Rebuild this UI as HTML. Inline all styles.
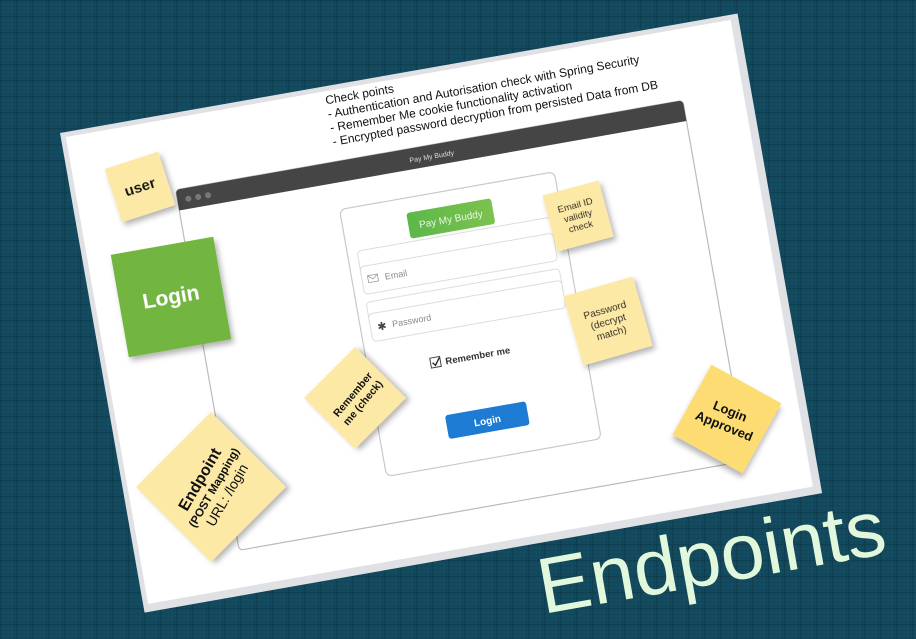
<!DOCTYPE html>
<html><head><meta charset="utf-8"><style>
html,body{margin:0;padding:0;width:916px;height:639px;overflow:hidden;background:#12475a;}
svg{display:block;font-family:"Liberation Sans",Arial,sans-serif;}
</style></head><body>
<svg width="916" height="639" viewBox="0 0 916 639" xmlns="http://www.w3.org/2000/svg">
<defs>
<pattern id="g" width="16" height="16" patternUnits="userSpaceOnUse">
<rect width="16" height="16" fill="#12475a"/>
<path d="M4 0V16M8 0V16M12 0V16M0 4H16M0 8H16M0 12H16" stroke="#15506a" stroke-width="0.6"/>
<path d="M0 0V16M0 0H16" stroke="#0b3547" stroke-width="1"/>
</pattern>
<filter id="sh" x="-20%" y="-20%" width="150%" height="150%"><feDropShadow dx="2" dy="4" stdDeviation="3" flood-color="#000" flood-opacity="0.3"/></filter>
<linearGradient id="gb" x1="0" x2="1"><stop offset="0" stop-color="#5cb84a"/><stop offset="1" stop-color="#7cc24e"/></linearGradient>
</defs>
<rect width="916" height="639" fill="url(#g)"/>

<g transform="translate(60,133) rotate(-10)">
  <rect x="0" y="0" width="688" height="487" fill="#dfe1e4"/>
  <rect x="5" y="5" width="675" height="474" fill="#fff"/>
  <text font-size="12" fill="#111">
    <tspan x="267" y="18">Check points</tspan>
    <tspan x="267" y="32">- Authentication and Autorisation check with Spring Security</tspan>
    <tspan x="267" y="46">- Remember Me cookie functionality activation</tspan>
    <tspan x="267" y="60">- Encrypted password decryption from persisted Data from DB</tspan>
  </text>
  <rect x="104" y="76" width="515" height="366" rx="4" fill="#fff" stroke="#bbb" stroke-width="1.2"/>
  <path d="M108 76H615a4 4 0 0 1 4 4V97H104V80a4 4 0 0 1 4-4z" fill="#454545"/>
  <circle cx="115" cy="87" r="3" fill="#777"/><circle cx="125" cy="87" r="3" fill="#777"/><circle cx="135" cy="87" r="3" fill="#777"/>
  <text x="362" y="90" font-size="7" fill="#ddd" text-anchor="middle">Pay My Buddy</text>

  <rect x="262" y="124" width="218" height="271" rx="6" fill="#fff" stroke="#c8c8c8" stroke-width="1.2"/>
  <rect x="327" y="139" width="86" height="26" rx="3" fill="url(#gb)"/>
  <text x="370" y="156" font-size="10" fill="#eaf6e4" text-anchor="middle">Pay My Buddy</text>
  <rect x="272" y="168" width="196" height="28" rx="4" fill="#fff" stroke="#ddd"/>
  <rect x="272" y="184" width="196" height="28" rx="4" fill="#fff" stroke="#ddd"/>
  <rect x="278" y="194" width="10" height="7" fill="none" stroke="#999" stroke-width="0.8"/>
  <path d="M278 194l5 4 5-4" fill="none" stroke="#999" stroke-width="0.8"/>
  <text x="295" y="201" font-size="9" fill="#888">Email</text>
  <rect x="272" y="220" width="196" height="28" rx="4" fill="#fff" stroke="#ddd"/>
  <rect x="272" y="232" width="196" height="28" rx="4" fill="#fff" stroke="#ddd"/>
  <text x="279" y="250" font-size="11" fill="#444">✱</text>
  <text x="294" y="249" font-size="9" fill="#888">Password</text>
  <rect x="325" y="286" width="10" height="10" fill="#fff" stroke="#444"/>
  <path d="M327 291l2.5 3 5-7" fill="none" stroke="#222" stroke-width="1.3"/>
  <text x="340" y="295" font-size="9.5" fill="#333" font-weight="bold">Remember me</text>
  <rect x="330" y="345" width="82" height="24" rx="3" fill="#1e7bd4"/>
  <text x="371" y="361" font-size="10" fill="#fff" font-weight="bold" text-anchor="middle">Login</text>
</g>

<g transform="translate(140,187) rotate(-18)" filter="url(#sh)">
  <rect x="-28" y="-28" width="56" height="56" fill="#fde9a6"/>
  <text x="0" y="5" font-size="15" font-weight="bold" text-anchor="middle" fill="#111">user</text>
</g>
<g transform="translate(171,297) rotate(-10)" filter="url(#sh)">
  <rect x="-52" y="-52" width="104" height="104" fill="#72b540"/>
  <text x="0" y="7" font-size="21" font-weight="bold" text-anchor="middle" fill="#fff">Login</text>
</g>
<g transform="translate(211,487) rotate(-45)" filter="url(#sh)">
  <rect x="-53" y="-53" width="106" height="106" fill="#fde9a6"/>
</g>
<g transform="translate(213,487) rotate(-60)" fill="#111" text-anchor="middle">
  <text x="0" y="-10" font-size="16" font-weight="bold">Endpoint</text>
  <text x="0" y="5" font-size="11.5" font-weight="bold">(POST Mapping)</text>
  <text x="0" y="21" font-size="14">URL: /login</text>
</g>
<g transform="translate(355,398) rotate(-45)" filter="url(#sh)">
  <rect x="-36" y="-36" width="72" height="72" fill="#fde9a6"/>
</g>
<g transform="translate(357,398) rotate(-50)" fill="#111" text-anchor="middle" font-size="10.5" font-weight="bold">
  <text x="0" y="-2">Remember</text><text x="0" y="11">me (check)</text>
</g>
<g transform="translate(578,216) rotate(-15)" filter="url(#sh)">
  <rect x="-29" y="-29" width="58" height="58" fill="#fde9a6"/>
  <g font-size="9.5" fill="#111" text-anchor="middle"><text x="0" y="-8">Email ID</text><text x="0" y="3">validity</text><text x="0" y="14">check</text></g>
</g>
<g transform="translate(608,321) rotate(-16)" filter="url(#sh)">
  <rect x="-36" y="-36" width="72" height="72" fill="#fde9a6"/>
  <g font-size="10" fill="#111" text-anchor="middle"><text x="0" y="-8">Password</text><text x="0" y="4">(decrypt</text><text x="0" y="16">match)</text></g>
</g>
<g transform="translate(727,419) rotate(29)" filter="url(#sh)">
  <rect x="-40" y="-40" width="80" height="80" fill="#fddc73"/>
</g>
<g transform="translate(727,419) rotate(22)" fill="#111" text-anchor="middle" font-size="13" font-weight="bold">
  <text x="0" y="-4">Login</text><text x="0" y="12">Approved</text>
</g>

<text transform="translate(543,614) rotate(-10)" font-size="79" fill="#e2f8dd">Endpoints</text>
</svg>
</body></html>
